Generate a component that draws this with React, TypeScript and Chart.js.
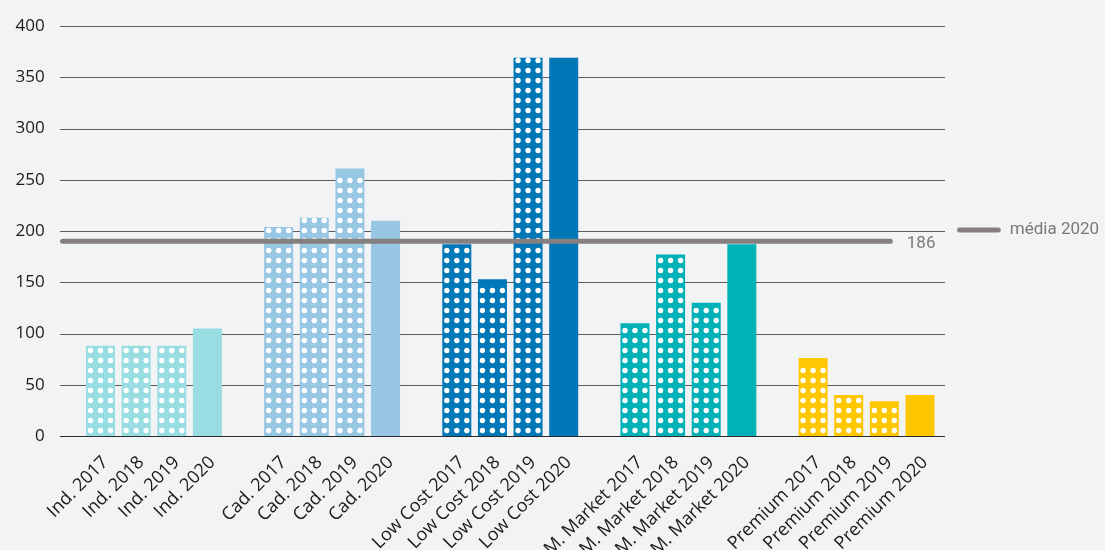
import { useEffect, useRef } from "react";
import { Chart, registerables } from "chart.js";

Chart.register(...registerables);

// ---- data ----
const groups = ["Ind.", "Cad.", "Low Cost", "M. Market", "Premium"];
const years = ["2017", "2018", "2019", "2020"];
const indValues = [88, 88, 88, 105];
const cadValues = [204, 213, 261, 210];
const lowCostValues = [187, 153, 369, 369];
const mMarketValues = [110, 177, 130, 187];
const premiumValues = [76, 40, 34, 40];
const groupValues = [indValues, cadValues, lowCostValues, mMarketValues, premiumValues];
const yMin = 0;
const yMax = 400;
const yStep = 50;
const mediaValue = 190;
const mediaLabel = "186";
const legendLabel = "média 2020";

// ---- styles ----
const groupColors = ["#98dde2", "#97c7e3", "#0077b6", "#00b1b7", "#ffc700"];
const dottedYears = [true, true, true, false];
const bgColor = "#f2f3f5";
const textColor = "#1a1a1a";
const mediaColor = "#857f7f";
const mediaTextColor = "#7d7878";

// build category table (with spacers between groups)
const labels: string[] = [];
const values: (number | null)[] = [];
const colors: string[] = [];
const dotted: boolean[] = [];
groups.forEach((g, gi) => {
  if (gi > 0) {
    labels.push("");
    values.push(null);
    colors.push("transparent");
    dotted.push(false);
  }
  years.forEach((yr, yi) => {
    labels.push(`${g} ${yr}`);
    values.push(groupValues[gi][yi]);
    colors.push(groupColors[gi]);
    dotted.push(dottedYears[yi]);
  });
});

const decorPlugin = {
  id: "decor",
  beforeDraw(chart: any) {
    const { ctx, width, height } = chart;
    ctx.save();
    ctx.fillStyle = bgColor;
    ctx.fillRect(0, 0, width, height);
    ctx.restore();
  },
  beforeDatasetsDraw(chart: any) {
    const { ctx, chartArea } = chart;
    const y = chart.scales.y;
    const x0 = chartArea.left - 22.7;
    const x1 = chartArea.right + 7.2;
    ctx.save();
    ctx.lineWidth = 1;
    y.ticks.forEach((t: any) => {
      const py = Math.round(y.getPixelForValue(t.value)) + 0.5;
      ctx.strokeStyle = t.value === 0 ? "#2b2b2b" : "#5c5c5c";
      ctx.beginPath();
      ctx.moveTo(x0, py);
      ctx.lineTo(x1, py);
      ctx.stroke();
    });
    ctx.restore();
  },
  afterDatasetsDraw(chart: any) {
    const { ctx, chartArea } = chart;
    const y = chart.scales.y;
    const meta = chart.getDatasetMeta(0);
    ctx.save();
    // dot pattern on bars
    ctx.fillStyle = "#ffffff";
    meta.data.forEach((bar: any, i: number) => {
      if (!dotted[i] || values[i] == null) return;
      const p = bar.getProps(["x", "y", "base"], true);
      const top = Math.min(p.y, p.base);
      const base = Math.max(p.y, p.base);
      for (let row = base - 5.5; row >= top + 2.6; row -= 10) {
        for (const dx of [-10, 0, 10]) {
          ctx.beginPath();
          ctx.arc(p.x + dx, row, 2.7, 0, Math.PI * 2);
          ctx.fill();
        }
      }
    });
    // media line
    const py = y.getPixelForValue(mediaValue);
    const lx0 = chartArea.left - 22.7 + 2.5;
    const lx1 = chartArea.right - 45 - 2.5;
    ctx.strokeStyle = mediaColor;
    ctx.lineWidth = 5;
    ctx.lineCap = "round";
    ctx.beginPath();
    ctx.moveTo(lx0, py);
    ctx.lineTo(lx1, py);
    ctx.stroke();
    ctx.font = "17px Roboto";
    ctx.fillStyle = mediaTextColor;
    ctx.textAlign = "left";
    ctx.textBaseline = "middle";
    ctx.fillText(mediaLabel, chartArea.right - 31, py + 2);
    // legend
    const ly = (chartArea.top + chartArea.bottom) / 2 - 1;
    ctx.beginPath();
    ctx.moveTo(chartArea.right + 19.2 + 2.5, ly);
    ctx.lineTo(chartArea.right + 63 - 2.5, ly);
    ctx.stroke();
    ctx.fillText(legendLabel, chartArea.right + 72, ly);
    ctx.restore();
  },
};

export default function App() {
  const canvasRef = useRef<HTMLCanvasElement | null>(null);

  useEffect(() => {
    document.body.style.margin = "0";
    document.body.style.background = bgColor;
    Chart.defaults.font.family = "Open Sans";
    const canvas = canvasRef.current;
    if (!canvas) return;
    const chart = new Chart(canvas, {
      type: "bar",
      data: {
        labels,
        datasets: [
          {
            label: "valores",
            data: values,
            backgroundColor: colors,
            borderWidth: 0,
            barPercentage: 0.814,
            categoryPercentage: 1,
          },
        ],
      },
      options: {
        responsive: true,
        maintainAspectRatio: false,
        animation: false,
        layout: { padding: { top: 26, right: 167.2, left: 0, bottom: 0 } },
        plugins: {
          legend: { display: false },
          tooltip: { enabled: false },
        },
        scales: {
          x: {
            grid: { display: false, drawTicks: false },
            border: { display: false },
            ticks: {
              autoSkip: false,
              maxRotation: 45,
              minRotation: 45,
              padding: 16,
              labelOffset: 5,
              color: textColor,
              font: { size: 18, family: "Open Sans" },
            },
            afterFit: (scale: any) => {
              scale.height = 114;
            },
          },
          y: {
            min: yMin,
            max: yMax,
            grid: { display: false, drawTicks: false },
            border: { display: false },
            ticks: {
              stepSize: yStep,
              padding: 38,
              color: textColor,
              font: { size: 17, family: "Open Sans" },
            },
            afterFit: (scale: any) => {
              scale.width = 82.7;
              scale.paddingTop = 0;
              scale.paddingBottom = 0;
            },
          },
        },
      },
      plugins: [decorPlugin],
    });
    return () => chart.destroy();
  }, []);

  return (
    <div style={{ width: 1105, height: 550, position: "relative", background: bgColor }}>
      <canvas ref={canvasRef} />
    </div>
  );
}
